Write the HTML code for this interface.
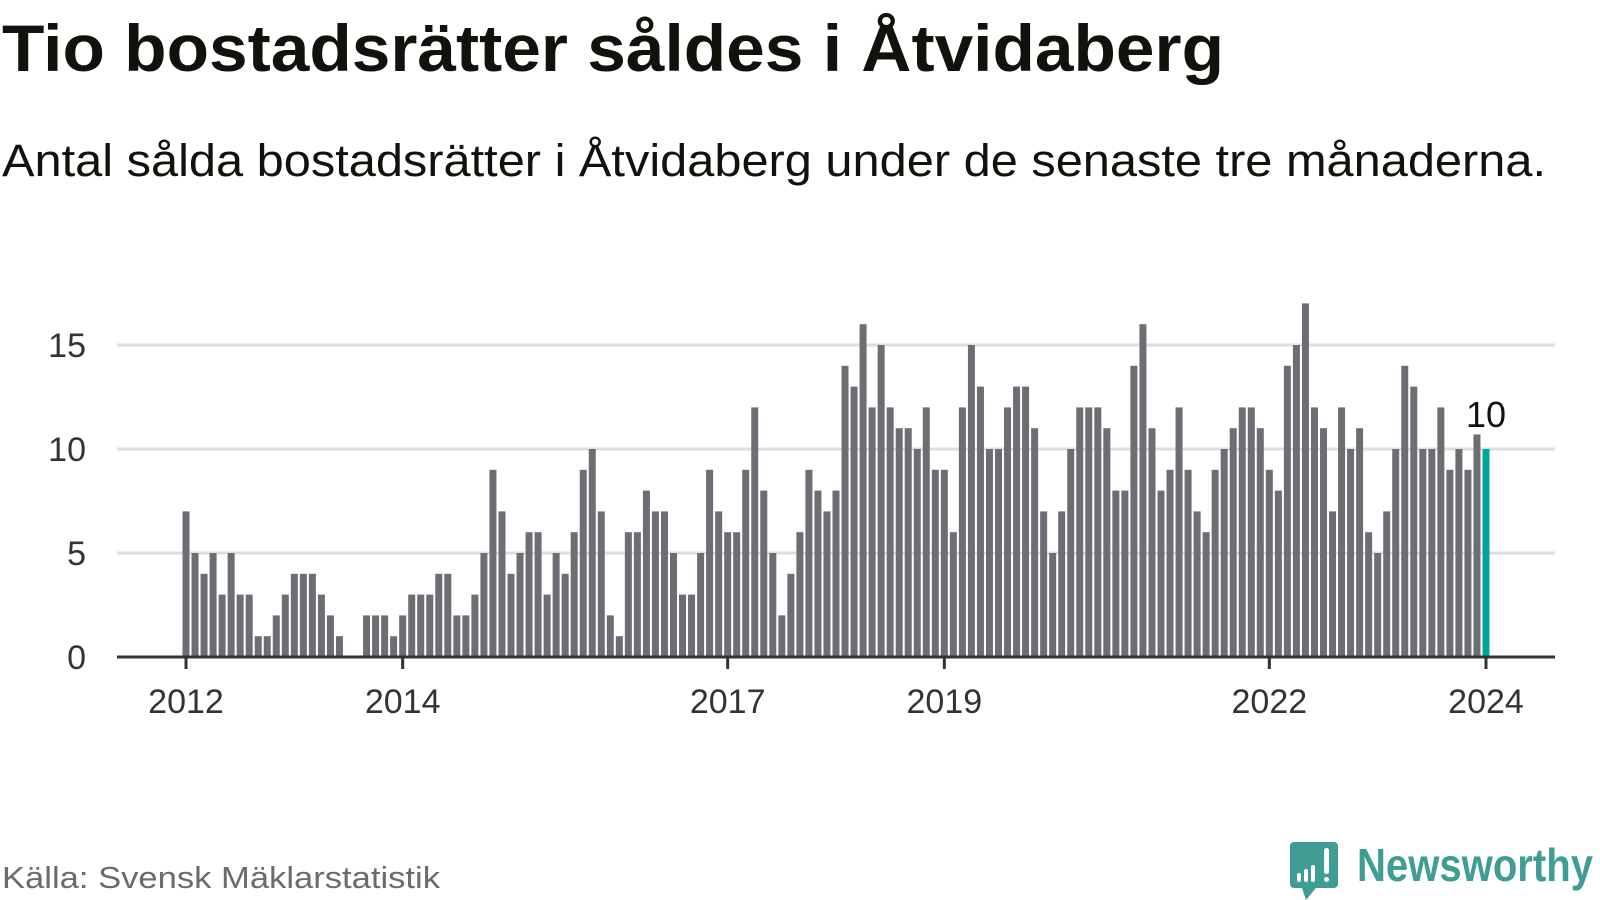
<!DOCTYPE html>
<html><head><meta charset="utf-8"><style>
html,body{margin:0;padding:0;background:#fff;}
svg{display:block;font-family:"Liberation Sans",sans-serif;}
</style></head><body>
<svg id="chart" width="1600" height="900" viewBox="0 0 1600 900">
<text x="2" y="71" font-size="66" font-weight="bold" fill="#12120d" textLength="1222" lengthAdjust="spacingAndGlyphs">Tio bostadsrätter såldes i Åtvidaberg</text>
<text x="2" y="176" font-size="45" fill="#12120d" textLength="1544" lengthAdjust="spacingAndGlyphs">Antal sålda bostadsrätter i Åtvidaberg under de senaste tre månaderna.</text>
<g id="grid"></g>
<g id="bars"></g>
<g id="axes"></g>
<text x="2" y="888" font-size="31" fill="#6b6b6b" textLength="438" lengthAdjust="spacingAndGlyphs">Källa: Svensk Mäklarstatistik</text>
<g>
<path d="M1294 842 h40 a4 4 0 0 1 4 4 v38 a4 4 0 0 1 -4 4 h-18 l-10 12 l-4 -12 h-8 a4 4 0 0 1 -4 -4 v-38 a4 4 0 0 1 4 -4z" fill="#3f9d94"/>
<rect x="1297" y="873" width="4" height="9" rx="2" fill="#fff"/>
<rect x="1304" y="869" width="4" height="13" rx="2" fill="#fff"/>
<rect x="1311" y="865" width="4" height="17" rx="2" fill="#fff"/>
<rect x="1324" y="848" width="5" height="26" rx="2.5" fill="#fff"/>
<rect x="1324" y="877" width="5" height="5" rx="2.5" fill="#fff"/>
<text x="1357" y="881" font-size="46" font-weight="bold" fill="#3f9d94" textLength="236" lengthAdjust="spacingAndGlyphs">Newsworthy</text>
</g>
</svg>
<script>
const values = [
7,5,4,5,3,5,3,3,1,1,2,3,
4,4,4,3,2,1,0,0,2,2,2,1,
2,3,3,3,4,4,2,2,3,5,9,7,
4,5,6,6,3,5,4,6,9,10,7,2,
1,6,6,8,7,7,5,3,3,5,9,7,
6,6,9,12,8,5,2,4,6,9,8,7,
8,14,13,16,12,15,12,11,11,10,12,9,
9,6,12,15,13,10,10,12,13,13,11,7,
5,7,10,12,12,12,11,8,8,14,16,
11,8,9,12,9,7,6,9,10,11,12,
12,11,9,8,14,15,17,12,11,7,12,10,
11,6,5,7,10,14,13,10,10,12,9,10,
9,10.7,10
];
const yTicks = [0,5,10,15];
const xTickLabels = ["2012","2014","2017","2019","2022","2024"];
const xTickIndex = [0,24,60,84,120,144];
const highlightLabel = "10";

const NS="http://www.w3.org/2000/svg";
const x0=186, step=(1486-186)/144, barW=7;
const yZero=657, unit=20.8;
function xs(i){return x0+i*step;}
function ys(v){return yZero-v*unit;}
function mk(tag,attrs,parent){const e=document.createElementNS(NS,tag);for(const k in attrs)e.setAttribute(k,attrs[k]);parent.appendChild(e);return e;}
const grid=document.getElementById('grid'), barsG=document.getElementById('bars'), axes=document.getElementById('axes');
yTicks.forEach(t=>{
  if(t>0){const l=mk('line',{x1:117,x2:1555,y1:ys(t),y2:ys(t),stroke:'#dedede','stroke-width':3},grid);
  
  }
  const tx=mk('text',{x:86,y:ys(t)+12,'font-size':34,fill:'#333','text-anchor':'end'},axes);
  tx.textContent=t;
  
  
});
values.forEach((v,i)=>{
  const last=i===values.length-1;
  const r=mk('rect',{x:xs(i)-barW/2,y:ys(v),width:barW,height:yZero-ys(v),fill:last?'#00a59a':'#6e6d74'},barsG);
  
  
});
const axisLine=mk('line',{x1:117,x2:1555,y1:yZero,y2:yZero,stroke:'#333','stroke-width':3},axes);


xTickLabels.forEach((lab,k)=>{
  const x=xs(xTickIndex[k]);
  const tk=mk('line',{x1:x,x2:x,y1:yZero,y2:yZero+12,stroke:'#333','stroke-width':3},axes);
  
  
  const tx=mk('text',{x:x,y:713,'font-size':34,fill:'#333','text-anchor':'middle'},axes);
  tx.textContent=lab;
  
  
});
const li=values.length-1;
const vl=mk('text',{x:xs(li),y:ys(values[li])-22,'font-size':36,fill:'#12120d','text-anchor':'middle'},axes);
vl.textContent=highlightLabel;


</script>
</body></html>
